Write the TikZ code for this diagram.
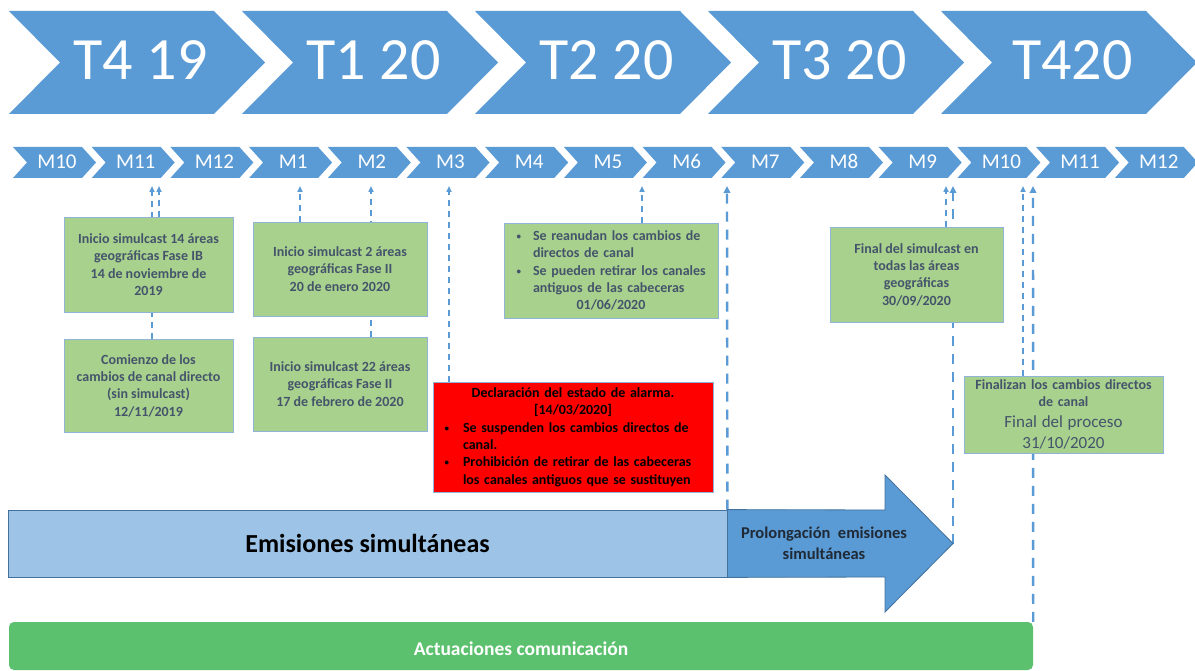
\documentclass[tikz,border=0pt]{standalone}
\usepackage{fontspec}
\setmainfont{Carlito}
\usetikzlibrary{arrows.meta,calc}
\pgfdeclarelayer{back}
\pgfdeclarelayer{bg}
\pgfsetlayers{back,bg,main}
\definecolor{cblue}{HTML}{5B9BD5}
\definecolor{cblueD}{HTML}{41719C}
\definecolor{clight}{HTML}{9DC3E6}
\definecolor{cgreen}{HTML}{A9D18E}
\definecolor{cgborder}{HTML}{8FB4D8}
\definecolor{ctext}{HTML}{44546A}
\definecolor{cact}{HTML}{5CC16E}
\definecolor{cdark}{HTML}{1F2A36}
\newcommand{\smbul}{{\fontsize{9}{9}\selectfont\raisebox{1pt}{•}}}
\begin{document}
\begin{tikzpicture}[x=1pt,y=-1pt,
  qlabel/.style={text=white,font=\fontsize{60}{70}\selectfont,inner sep=0pt},
  mlabel/.style={text=white,font=\fontsize{21}{25}\selectfont,inner sep=0pt},
  gbox/.style={draw=cgborder,line width=0.8pt,fill=cgreen,text=ctext,font=\fontsize{14}{17.3}\selectfont\bfseries,align=center,inner sep=0pt},
  rbox/.style={draw=cgborder,line width=0.8pt,fill=red,text=black,font=\fontsize{14}{17.4}\selectfont\bfseries,align=left,inner sep=0pt},
  thinarr/.style={draw=cblue,line width=1.5pt,dash pattern=on 6pt off 5pt,-{Triangle[length=6pt,width=5pt]}},
  thickarr/.style={draw=cblue,line width=2.4pt,dash pattern=on 10pt off 8pt,-{Triangle[length=7pt,width=6.5pt]}},
]
\begin{pgfonlayer}{back}
\fill[white] (0,0) rectangle (1195,671);
\end{pgfonlayer}
\useasboundingbox (0,0) rectangle (1195,671);

% quarter chevrons
\foreach \i/\t in {0/T4 19,1/T1 20,2/T2 20,3/T3 20,4/T420} {
  \pgfmathsetmacro\xo{9+233*\i}
  \fill[cblue] (\xo,11) -- ++(205,0) -- ++(51,51.5) -- ++(-51,51.5) -- ++(-205,0) -- ++(51,-51.5) -- cycle;
  \node[qlabel] (q\i) at (\xo+131.5,60) {\t};
}

% month chevrons
\foreach \i/\t in {0/M10,1/M11,2/M12,3/M1,4/M2,5/M3,6/M4,7/M5,8/M6,9/M7,10/M8,11/M9,12/M10,13/M11,14/M12} {
  \pgfmathsetmacro\xo{13+78.7*\i}
  \fill[cblue] (\xo,147) -- ++(69,0) -- ++(14,15.5) -- ++(-14,15.5) -- ++(-69,0) -- ++(14,-15.5) -- cycle;
  \node[mlabel] (m\i) at (\xo+44,161.5) {\t};
}

% boxes
\node[gbox,minimum width=169pt,minimum height=95pt] (b1) at (148.5,264.5)
  {Inicio simulcast 14 áreas\\geográficas Fase IB\\14 de noviembre de\\2019};
\node[gbox,minimum width=169pt,minimum height=93pt] (b2) at (148.5,385.5)
  {Comienzo de los\\cambios de canal directo\\(sin simulcast)\\12/11/2019};
\node[gbox,minimum width=174pt,minimum height=94pt] (b3) at (340,269)
  {Inicio simulcast 2 áreas\\geográficas Fase II\\20 de enero 2020};
\node[gbox,minimum width=174pt,minimum height=94pt] (b4) at (340,384)
  {Inicio simulcast 22 áreas\\geográficas Fase II\\17 de febrero de 2020};
\node[gbox,align=left,text width=206pt,minimum width=214pt,minimum height=95pt] (b5) at (611,270.5) {%
  \leftskip=25pt\relax
  \noindent\llap{\smbul\hspace{12pt}}Se reanudan los cambios de\newline directos de canal\par
  \noindent\llap{\smbul\hspace{12pt}}Se pueden retirar los canales\newline antiguos de las cabeceras\par
  {\centering 01/06/2020\par}};
\node[rbox,text width=268pt,minimum width=280pt,minimum height=110pt] (red) at (573,437) {%
  {\centering Declaración del estado de alarma.\\{[14/03/2020]}\par}
  \leftskip=24pt\relax
  \noindent\llap{\smbul\hspace{14pt}}Se suspenden los cambios directos de\newline canal.\par
  \noindent\llap{\smbul\hspace{14pt}}Prohibición de retirar de las cabeceras\newline los canales antiguos que se sustituyen\par};
\node[gbox,minimum width=173pt,minimum height=95pt] (b6) at (916.5,274.5)
  {Final del simulcast en\\todas las áreas\\geográficas\\30/09/2020};
\node[gbox,text width=195pt,minimum width=199pt,minimum height=77pt] (b7) at (1063.5,414.5) {%
  {\fontsize{14}{17}\selectfont Finalizan los cambios directos\\de canal\par}
  {\fontsize{17}{21}\selectfont\mdseries Final del proceso\\31/10/2020\par}};

% emisiones bar and prolongation arrow
\node[draw=cblueD,line width=0.8pt,fill=clight,minimum width=719pt,minimum height=67pt,inner sep=0pt,
  font=\fontsize{26}{30}\selectfont\bfseries] (emi) at (367.5,543.5) {Emisiones simultáneas};
\filldraw[fill=cblue,draw=cblueD,line width=0.8pt] (emi.north east) -- (885,510) -- (885,475) -- (953,543.5)
  -- (885,612) -- (885,577) -- (emi.south east) -- cycle;
\coordinate (ptip) at (953,543.5);
\node[text=cdark,align=center,inner sep=0pt,font=\fontsize{16.5}{21}\selectfont\bfseries] (pro) at (824,543)
  {Prolongación\ \ emisiones\\simultáneas};

% actuaciones bar
\node[fill=cact,rounded corners=5pt,minimum width=1024pt,minimum height=48pt,inner sep=0pt] (act) at (521,646) {};
\node[text=white,inner sep=0pt,font=\fontsize{19.5}{23}\selectfont\bfseries] (actt) at (521,648.5) {Actuaciones comunicación};

% arrow tips
\coordinate (t1) at (152,186);
\coordinate (t2) at (159,186);
\coordinate (t3) at (300,186);
\coordinate (t4) at (371,186);
\coordinate (t5) at (449,186);
\coordinate (t6) at (642,186);
\coordinate (t7) at (727,186);
\coordinate (t8) at (946,186);
\coordinate (t9) at (953,186);
\coordinate (t10) at (1023,186);
\coordinate (t11) at (1033,186);

\begin{pgfonlayer}{bg}
\draw[thinarr] (b2.north -| t1) -- (t1);
\draw[thinarr] (b1.north -| t2) -- (t2);
\draw[thinarr] (b3.north -| t3) -- (t3);
\draw[thinarr] (b4.north -| t4) -- (t4);
\draw[thinarr] (red.north -| t5) -- (t5);
\draw[thinarr] (b5.north -| t6) -- (t6);
\draw[thickarr] (emi.north east) -- (t7);
\draw[thinarr] (b6.north -| t8) -- (t8);
\draw[thickarr] (ptip) -- (t9);
\draw[thinarr] (b7.north -| t10) -- (t10);
\draw[thickarr] (act.north east) -- (t11);
\end{pgfonlayer}
\end{tikzpicture}
\end{document}
